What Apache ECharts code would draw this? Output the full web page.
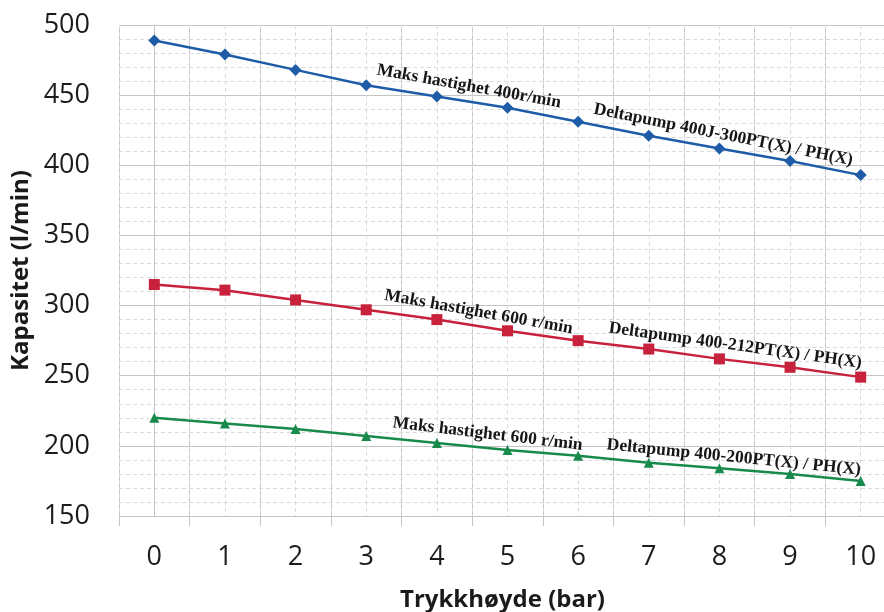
<!DOCTYPE html>
<html><head><meta charset="utf-8">
<script src="https://cdn.jsdelivr.net/npm/echarts@6/dist/echarts.min.js"></script>
<style>html,body{margin:0;padding:0;background:#fff}#c{width:884px;height:612px}</style>
</head><body><div id="c"></div>
<script>
// ---- data ----
const categories = ['0','1','2','3','4','5','6','7','8','9','10'];
const blueValues  = [489, 479, 468, 457, 449, 441, 431, 421, 412, 403, 393];
const redValues   = [315, 311, 304, 297, 290, 282, 275, 269, 262, 256, 249];
const greenValues = [220, 216, 212, 207, 202, 197, 193, 188, 184, 180, 175];
const yMin = 150, yMax = 500, yStep = 50;
const xTitle = 'Trykkhøyde (bar)';
const yTitle = 'Kapasitet (l/min)';
const blueNotes  = ['Maks hastighet 400r/min', 'Deltapump 400J-300PT(X) / PH(X)'];
const redNotes   = ['Maks hastighet 600 r/min', 'Deltapump 400-212PT(X) / PH(X)'];
const greenNotes = ['Maks hastighet 600 r/min', 'Deltapump 400-200PT(X) / PH(X)'];

// ---- styles ----
const BLUE = '#1f5ca8', RED = '#c8213c', GREEN = '#188a4c';
const GRID = '#c4c4c4', MINOR = '#dadada';

const chart = echarts.init(document.getElementById('c'), null, {renderer: 'canvas'});

const seriesList = [
  {values: blueValues, color: BLUE, symbol: 'diamond', size: 12, notes: blueNotes, at: [4.42, 8.02], above: [15, 14]},
  {values: redValues, color: RED, symbol: 'rect', size: 11, notes: redNotes, at: [4.56, 8.2], above: [14, 15]},
  {values: greenValues, color: GREEN, symbol: 'triangle', size: 10, notes: greenNotes, at: [4.7, 8.19], above: [14, 12]}
];

chart.setOption({
  animation: false,
  backgroundColor: '#fff',
  grid: {left: 119, right: -12, top: 25, bottom: 96, containLabel: false, outerBoundsMode: 'none'},
  xAxis: [{
    type: 'category', data: categories, boundaryGap: true, position: 'bottom',
    name: xTitle, nameLocation: 'middle', nameGap: 72,
    nameTextStyle: {fontFamily: 'Open Sans', fontWeight: 'bold', fontSize: 24, color: '#1a1a1a', padding: [0, 10, 0, 0]},
    axisLine: {show: true, lineStyle: {color: GRID, width: 1}},
    axisTick: {show: true, length: 10, lineStyle: {color: GRID}},
    axisLabel: {fontFamily: 'Open Sans', fontSize: 27, color: '#1c1c1c', margin: 28},
    splitLine: {show: true, lineStyle: {color: GRID, width: 1}}
  }, {
    type: 'value', min: -0.5, max: 10.5, interval: 0.5, position: 'top',
    axisLine: {show: false}, axisTick: {show: false}, axisLabel: {show: false},
    splitLine: {show: true, lineStyle: {color: MINOR, width: 1, type: [4, 3]}}
  }],
  yAxis: {
    type: 'value', min: yMin, max: yMax, interval: yStep,
    name: yTitle, nameLocation: 'middle', nameGap: 84,
    nameTextStyle: {fontFamily: 'Open Sans', fontWeight: 'bold', fontSize: 24, color: '#1a1a1a'},
    axisLine: {show: true, lineStyle: {color: GRID}},
    axisTick: {show: true, length: 9, lineStyle: {color: GRID}},
    axisLabel: {fontFamily: 'Open Sans', fontSize: 27, color: '#1c1c1c', margin: 29},
    splitLine: {show: true, lineStyle: {color: GRID, width: 1}},
    minorTick: {show: false, splitNumber: 5},
    minorSplitLine: {show: true, lineStyle: {color: MINOR, width: 1, type: [4, 3]}}
  },
  series: seriesList.map(s => ({
    type: 'line', data: s.values, xAxisIndex: 0, yAxisIndex: 0,
    symbol: s.symbol, symbolSize: s.size, showSymbol: true,
    lineStyle: {color: s.color, width: 2.5},
    itemStyle: {color: s.color},
    z: 5
  }))
});

// ---- annotations placed along each line via the chart's own scales ----
const graphics = [];
seriesList.forEach((s, si) => {
  s.notes.forEach((txt, k) => {
    const at = s.at[k];
    const i0 = Math.floor(at), f = at - i0;
    const p0 = chart.convertToPixel({xAxisIndex: 0, yAxisIndex: 0}, [i0, s.values[i0]]);
    const p1 = chart.convertToPixel({xAxisIndex: 0, yAxisIndex: 0}, [i0 + 1, s.values[i0 + 1]]);
    const dx = p1[0] - p0[0], dy = p1[1] - p0[1];
    const len = Math.hypot(dx, dy);
    const nx = dy / len, ny = -dx / len; // upward normal
    const cx = p0[0] + dx * f + nx * s.above[k];
    const cy = p0[1] + dy * f + ny * s.above[k];
    graphics.push({
      type: 'text', x: cx, y: cy, rotation: -Math.atan2(dy, dx) - 0.02, z: 10,
      style: {text: txt, fontFamily: 'Liberation Serif', fontWeight: 'bold', fontSize: 17.5,
              fill: '#161616', align: 'center', verticalAlign: 'middle'}
    });
  });
});
chart.setOption({graphic: graphics});
</script>
</body></html>
